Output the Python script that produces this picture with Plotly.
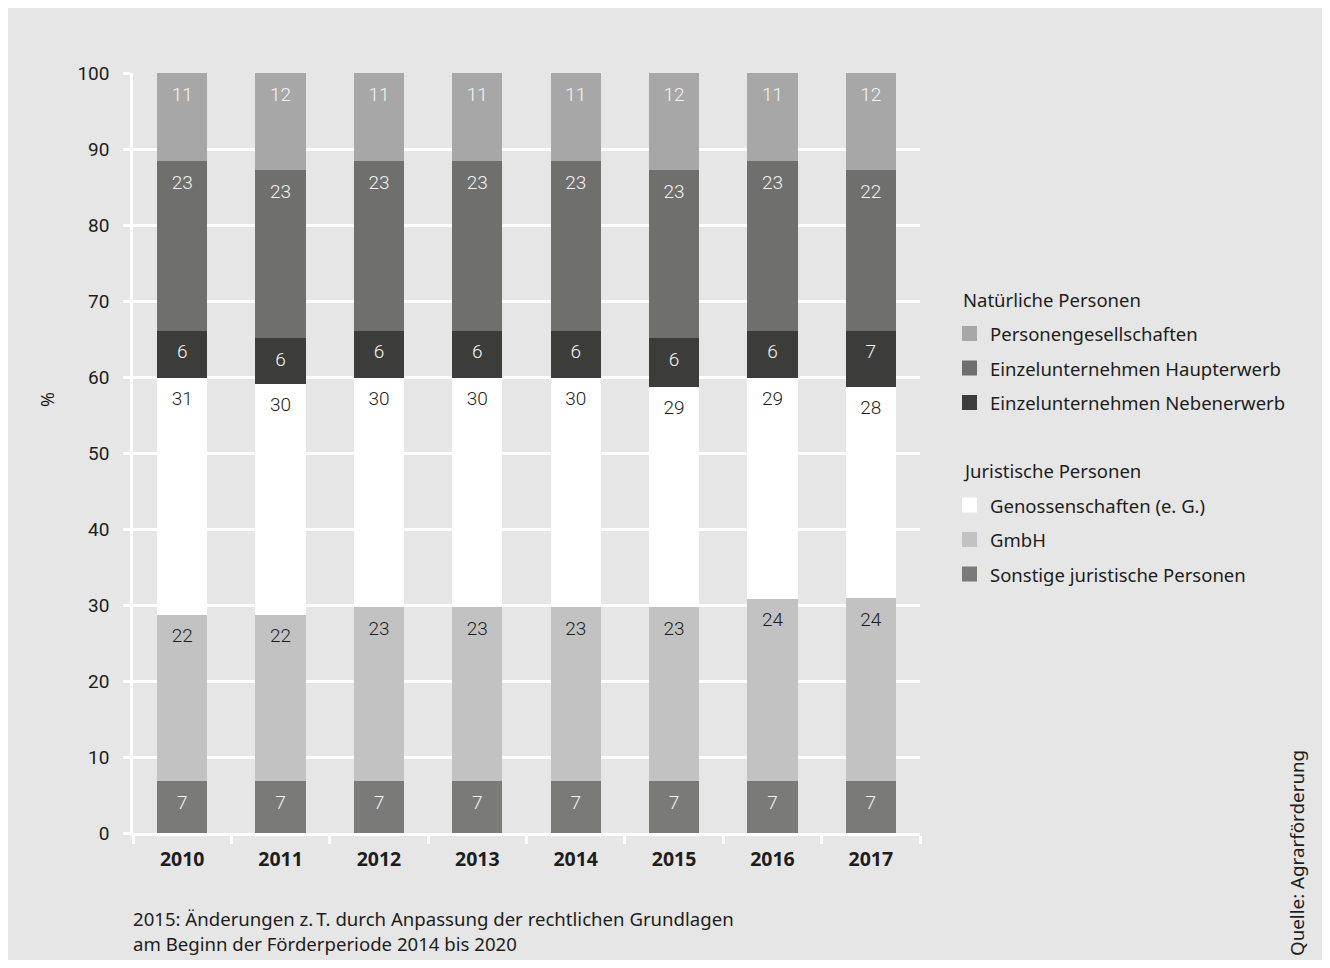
import numpy as np
import plotly.graph_objects as go

# ---------------- data ----------------
years = ["2010", "2011", "2012", "2013", "2014", "2015", "2016", "2017"]

# segment shares in % (bottom to top)
sonstige = [6.8, 6.8, 6.8, 6.8, 6.8, 6.8, 6.8, 6.8]
gmbh = [21.9, 21.9, 22.9, 22.9, 22.9, 22.9, 24.0, 24.1]
genossen = [31.2, 30.4, 30.2, 30.2, 30.2, 29.0, 29.1, 27.8]
neben = [6.2, 6.0, 6.2, 6.2, 6.2, 6.4, 6.2, 7.4]
haupt = [22.3, 22.1, 22.3, 22.3, 22.3, 22.1, 22.3, 21.1]
personen = [11.6, 12.8, 11.6, 11.6, 11.6, 12.8, 11.6, 12.8]

# printed (rounded) values
sonstige_lbl = [7, 7, 7, 7, 7, 7, 7, 7]
gmbh_lbl = [22, 22, 23, 23, 23, 23, 24, 24]
genossen_lbl = [31, 30, 30, 30, 30, 29, 29, 28]
neben_lbl = [6, 6, 6, 6, 6, 6, 6, 7]
haupt_lbl = [23, 23, 23, 23, 23, 23, 23, 22]
personen_lbl = [11, 12, 11, 11, 11, 12, 11, 12]

series_names = [
    "Sonstige juristische Personen",
    "GmbH",
    "Genossenschaften (e. G.)",
    "Einzelunternehmen Nebenerwerb",
    "Einzelunternehmen Haupterwerb",
    "Personengesellschaften",
]
series_values = [sonstige, gmbh, genossen, neben, haupt, personen]
series_labels = [sonstige_lbl, gmbh_lbl, genossen_lbl, neben_lbl, haupt_lbl, personen_lbl]
colors = ["#7a7a79", "#c2c2c2", "#ffffff", "#3c3c3b", "#6f6f6e", "#a7a7a7"]
label_colors = ["#f4f4f4", "#1d1d1b", "#1d1d1b", "#f4f4f4", "#f4f4f4", "#f4f4f4"]

legend_groups = [
    ("Natürliche Personen", [5, 4, 3]),
    ("Juristische Personen", [2, 1, 0]),
]

y_ticks = [0, 10, 20, 30, 40, 50, 60, 70, 80, 90, 100]
y_title = "%"
note_lines = [
    "2015: Änderungen z.\u2009T. durch Anpassung der rechtlichen Grundlagen",
    "am Beginn der Förderperiode 2014 bis 2020",
]
source_text = "Quelle: Agrarförderung"

# ---------------- layout geometry (pixels) ----------------
W, H = 1330, 968
L, R, T, B = 133, 410, 73, 135
PW, PH = W - L - R, H - T - B

def px_x(px):
    return (px - L) / PW

def px_y(py):
    return (H - B - py) / PH

TEXT_FONT = "Noto Sans"
NUM_FONT = "Roboto"
TXT = "#1d1d1b"
BG = "#e6e6e6"

fig = go.Figure()

# bars
for name, vals, col in zip(series_names, series_values, colors):
    fig.add_trace(go.Bar(
        x=years, y=vals, name=name, marker=dict(color=col, line=dict(width=0)),
        width=0.51, showlegend=False, hoverinfo="x+y+name",
    ))

# value labels, placed near the top of each segment
vals_arr = np.array(series_values, dtype=float)
tops = np.cumsum(vals_arr, axis=0)
for i, (lbls, lc) in enumerate(zip(series_labels, label_colors)):
    offs = np.minimum(3.0, vals_arr[i] / 2.0)
    fig.add_trace(go.Scatter(
        x=years, y=tops[i] - offs, mode="text",
        text=[str(v) for v in lbls],
        textfont=dict(family=NUM_FONT, size=19, color=lc, weight=300),
        textposition="middle center", showlegend=False, hoverinfo="skip",
    ))

# background panel
shapes = [dict(
    type="rect", xref="paper", yref="paper", layer="below",
    x0=px_x(8), x1=px_x(W - 8), y0=px_y(H - 8), y1=px_y(8),
    fillcolor=BG, line=dict(width=0),
)]

annotations = []
# custom legend
row_y = 299
for gi, (title, idxs) in enumerate(legend_groups):
    if gi > 0:
        row_y += 68
    annotations.append(dict(
        xref="paper", yref="paper", x=px_x(961), y=px_y(row_y),
        xanchor="left", yanchor="middle", showarrow=False, text=title,
        font=dict(family=TEXT_FONT, size=18.5, color=TXT),
    ))
    for idx in idxs:
        row_y += 34.5
        shapes.append(dict(
            type="rect", xref="paper", yref="paper",
            x0=px_x(962), x1=px_x(977), y0=px_y(row_y + 7.5), y1=px_y(row_y - 7.5),
            fillcolor=colors[idx], line=dict(width=0),
        ))
        annotations.append(dict(
            xref="paper", yref="paper", x=px_x(988), y=px_y(row_y),
            xanchor="left", yanchor="middle", showarrow=False, text=series_names[idx],
            font=dict(family=TEXT_FONT, size=18.5, color=TXT),
        ))

# note below the chart
for k, line in enumerate(note_lines):
    annotations.append(dict(
        xref="paper", yref="paper", x=px_x(131), y=px_y(918 + 25 * k),
        xanchor="left", yanchor="middle", showarrow=False, text=line,
        font=dict(family=TEXT_FONT, size=18.6, color=TXT),
    ))

# source (vertical)
annotations.append(dict(
    xref="paper", yref="paper", x=px_x(1297), y=px_y(853),
    xanchor="center", yanchor="middle", showarrow=False, text=source_text,
    textangle=-90, font=dict(family=TEXT_FONT, size=18.8, color=TXT),
))

# y axis unit
annotations.append(dict(
    xref="paper", yref="paper", x=px_x(47), y=px_y(400),
    xanchor="center", yanchor="middle", showarrow=False, text=y_title,
    textangle=-90, font=dict(family=TEXT_FONT, size=18, color=TXT),
))

fig.update_layout(
    width=W, height=H,
    margin=dict(l=L, r=R, t=T, b=B, pad=0),
    paper_bgcolor="white", plot_bgcolor=BG,
    barmode="stack",
    shapes=shapes, annotations=annotations,
    showlegend=False,
    font=dict(family=TEXT_FONT, color=TXT),
)
fig.update_xaxes(
    type="category", range=[-0.5, 7.5],
    showline=True, linecolor="white", linewidth=2.5,
    ticks="outside", tickson="boundaries", ticklen=8, tickwidth=2.5, tickcolor="white",
    tickfont=dict(family=TEXT_FONT, size=19.5, color=TXT, weight="bold"),
    ticklabelstandoff=7,
    showgrid=False, zeroline=False,
)
fig.update_yaxes(
    range=[0, 100], tickvals=y_ticks,
    showline=True, linecolor="white", linewidth=2.5,
    ticks="outside", ticklen=7, tickwidth=2.5, tickcolor="white",
    tickfont=dict(family=NUM_FONT, size=19, color=TXT),
    ticklabelstandoff=10,
    showgrid=True, gridcolor="white", gridwidth=2.5, zeroline=False,
)

fig.write_html("out.html")
